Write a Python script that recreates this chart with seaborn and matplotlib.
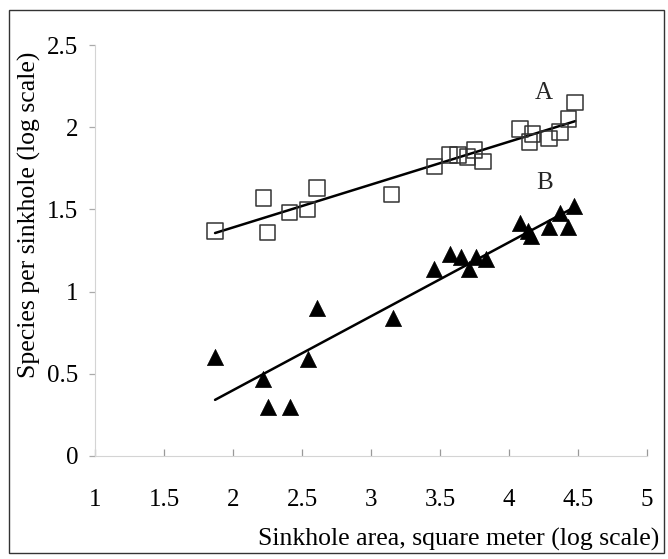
import numpy as np
import pandas as pd
import seaborn as sns
import matplotlib.pyplot as plt
from matplotlib.patches import Rectangle

sns.set_theme(style="white")
plt.rcParams['font.family'] = ['Liberation Serif', 'DejaVu Serif']

# series A (open squares)
area_a = [1.87, 2.22, 2.25, 2.41, 2.54, 2.61, 3.15, 3.46, 3.57, 3.63, 3.70, 3.75,
          3.81, 4.08, 4.15, 4.17, 4.29, 4.37, 4.43, 4.48]
species_a = [1.37, 1.57, 1.36, 1.48, 1.50, 1.63, 1.59, 1.76, 1.83, 1.83, 1.82, 1.86,
             1.79, 1.99, 1.91, 1.96, 1.93, 1.97, 2.05, 2.15]

# series B (filled triangles)
area_b = [1.87, 2.22, 2.25, 2.41, 2.54, 2.61, 3.16, 3.46, 3.57, 3.65, 3.71, 3.76,
          3.83, 4.08, 4.14, 4.16, 4.29, 4.37, 4.43, 4.47]
species_b = [0.60, 0.47, 0.30, 0.30, 0.59, 0.90, 0.84, 1.14, 1.23, 1.21, 1.14, 1.21,
             1.20, 1.42, 1.37, 1.34, 1.39, 1.48, 1.39, 1.52]

df_a = pd.DataFrame({"area": area_a, "species": species_a})
df_b = pd.DataFrame({"area": area_b, "species": species_b})

fig = plt.figure(figsize=(6.68, 5.59), dpi=100)
ax = fig.add_axes([95 / 668, 1 - 456 / 559, 552 / 668, 411 / 559])

sns.regplot(data=df_a, x="area", y="species", scatter=False, ci=None, truncate=True,
            color="black", line_kws={"lw": 1.8}, ax=ax)
sns.regplot(data=df_b, x="area", y="species", scatter=False, ci=None, truncate=True,
            color="black", line_kws={"lw": 1.8}, ax=ax)

sns.scatterplot(data=df_a, x="area", y="species", marker="s", s=125,
                facecolor="none", edgecolor="#333333", linewidth=1.1, ax=ax, zorder=3)
sns.scatterplot(data=df_b, x="area", y="species", marker="^", s=135,
                color="black", edgecolor="black", linewidth=0.5, ax=ax, zorder=3)

ax.text(4.25, 2.21, "A", fontsize=18, ha="center", va="center")
ax.text(4.26, 1.66, "B", fontsize=18, ha="center", va="center")

ax.set_xlim(1, 5)
ax.set_ylim(0, 2.5)
ax.set_xticks(np.arange(1, 5.01, 0.5))
ax.set_yticks(np.arange(0, 2.51, 0.5))
ax.set_xticklabels(["1", "1.5", "2", "2.5", "3", "3.5", "4", "4.5", "5"])
ax.set_yticklabels(["0", "0.5", "1", "1.5", "2", "2.5"])

for side in ["top", "right"]:
    ax.spines[side].set_visible(False)
for side in ["left", "bottom"]:
    ax.spines[side].set_color("#d4d4d4")
    ax.spines[side].set_linewidth(0.8)

ax.tick_params(axis="x", direction="in", length=5, width=0.9, color="#999999",
               pad=24, labelsize=18, labelcolor="black", bottom=True)
ax.tick_params(axis="y", direction="out", length=4, width=0.9, color="#aaaaaa",
               pad=8, labelsize=18, labelcolor="black", left=True)

ax.set_xlabel("Sinkhole area, square meter (log scale)", fontsize=18.5, color="black")
ax.set_ylabel("Species per sinkhole (log scale)", fontsize=18.5, color="black")
ax.xaxis.set_label_coords(0.658, -0.175)
ax.yaxis.set_label_coords(-0.098, 0.586)

# frame around the whole picture
fig.patches.append(Rectangle((9 / 668, 1 - 553 / 559), 655 / 668, 543 / 559,
                             transform=fig.transFigure, fill=False,
                             edgecolor="#333333", linewidth=1.0))

fig.savefig("out.png", dpi=100, facecolor="white")
